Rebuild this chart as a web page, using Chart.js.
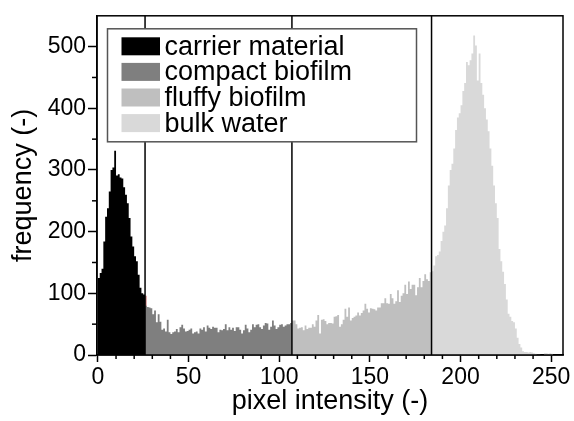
<!DOCTYPE html>
<html><head><meta charset="utf-8">
<script src="https://cdn.jsdelivr.net/npm/chart.js@4/dist/chart.umd.min.js"></script>
<style>html,body{margin:0;padding:0;background:#fff}#wrap{width:574px;height:421px}</style>
</head><body><div id="wrap"><canvas id="c" width="574" height="421"></canvas></div>
<script>
// ---- data ----
const categories = ['carrier material', 'compact biofilm', 'fluffy biofilm', 'bulk water'];
const classStart = [0, 26, 107, 184];
const thresholds = [26, 107, 184];
const carrier = [125,133,140,184,224,238,265,300,304,331,291,293,288,286,272,260,246,222,192,176,160,152,130,109,100,98];
const compact = [80,78,77,76,66,72,53,66,54,41,43,38,57,37,34,37,38,42,37,45,49,43,38,39,41,43,35,37,38,35,43,41,45,38,48,44,42,46,44,44,37,41,40,42,50,40,45,41,44,39,45,45,41,35,40,49,43,37,41,50,45,49,50,45,42,48,52,51,41,46,56,48,42,45,49,50,46,48,50,50,52];
const fluffy = [56,56,50,43,44,45,40,48,42,44,44,50,46,56,65,35,57,58,55,50,52,52,51,62,63,65,46,50,57,75,62,77,56,60,62,64,69,64,68,72,83,75,69,76,75,74,72,77,77,84,84,92,84,83,99,92,83,87,105,86,96,100,114,99,119,107,114,114,97,110,125,110,120,131,123,120,134];
const bulk = [136,145,160,162,168,185,200,210,238,275,300,310,335,365,385,392,405,428,441,475,470,478,489,518,502,445,489,441,422,400,382,363,335,307,275,246,222,172,152,135,115,90,67,62,55,53,43,28,18,12,6,5,5,4,5,4,3,2,1,1,0,0,3,3,2,3,2,0,0,0,0,0];
const edgeBin = 26;
const edgeValue = [96];
const xTicks = [0, 50, 100, 150, 200, 250];
const yTicks = [0, 100, 200, 300, 400, 500];
const xMinorTicks = [10,20,30,40,60,70,80,90,110,120,130,140,160,170,180,190,210,220,230,240];
const yMinorTicks = [50, 150, 250, 350, 450];
const colors = ['#000000', '#7f7f7f', '#bfbfbf', '#d9d9d9'];
const edgeColor = '#d49090';

const FONT = "'Liberation Sans', Arial, sans-serif";
Chart.defaults.font.family = FONT;
Chart.defaults.color = '#000';

// histogram bins drawn as filled step outlines (bin i covers [i, i+1])
const series = [carrier, compact, fluffy, bulk];
const toSteps = (arr, start) => {
  const pts = arr.map((v, i) => ({x: start + i, y: v}));
  pts.push({x: start + arr.length, y: arr[arr.length - 1]});
  return pts;
};
const stepStyle = {stepped: 'before', fill: 'origin', borderWidth: 0, pointRadius: 0, pointHoverRadius: 0, tension: 0};
const datasets = series.map((arr, k) => Object.assign({
  label: categories[k],
  data: toSteps(arr, classStart[k]),
  backgroundColor: colors[k],
  borderColor: colors[k],
  order: 0
}, stepStyle));
datasets.push(Object.assign({
  label: 'edge',
  data: toSteps(edgeValue, edgeBin),
  backgroundColor: edgeColor,
  borderColor: edgeColor,
  order: 1
}, stepStyle));

const framePlugin = {
  id: 'frame',
  afterDatasetsDraw(chart) {
    const {ctx, chartArea: a, scales: {x, y}} = chart;
    ctx.save();
    ctx.strokeStyle = '#000';
    ctx.lineWidth = 1.5;
    thresholds.forEach(t => {
      const px = x.getPixelForValue(t);
      ctx.beginPath(); ctx.moveTo(px, a.top); ctx.lineTo(px, a.bottom); ctx.stroke();
    });
    ctx.strokeRect(a.left, a.top, a.right - a.left, a.bottom - a.top);
    xMinorTicks.forEach(v => {
      const px = x.getPixelForValue(v);
      ctx.beginPath(); ctx.moveTo(px, a.bottom); ctx.lineTo(px, a.bottom + 4); ctx.stroke();
    });
    yMinorTicks.forEach(v => {
      const py = y.getPixelForValue(v);
      ctx.beginPath(); ctx.moveTo(a.left, py); ctx.lineTo(a.left - 5, py); ctx.stroke();
    });
    ctx.restore();
  }
};

const legendPlugin = {
  id: 'boxLegend',
  afterDraw(chart) {
    const {ctx, chartArea: a} = chart;
    const x0 = a.left + 10.5, y0 = a.top + 13, w = 309, h = 113;
    ctx.save();
    ctx.fillStyle = '#fff';
    ctx.fillRect(x0, y0, w, h);
    ctx.strokeStyle = '#555';
    ctx.lineWidth = 1.5;
    ctx.strokeRect(x0, y0, w, h);
    ctx.font = '27px ' + FONT;
    ctx.textBaseline = 'middle';
    ctx.textAlign = 'left';
    categories.forEach((c, i) => {
      const sy = y0 + 8.5 + i * 25.6;
      ctx.fillStyle = colors[i];
      ctx.fillRect(x0 + 14, sy, 38.5, 18);
      ctx.fillStyle = '#000';
      ctx.fillText(c, x0 + 57, sy + 10);
    });
    ctx.restore();
  }
};

new Chart(document.getElementById('c'), {
  type: 'line',
  data: {datasets},
  options: {
    responsive: false,
    animation: false,
    devicePixelRatio: 1,
    layout: {padding: {top: 12, right: 11, left: 0, bottom: 0}},
    plugins: {legend: {display: false}, tooltip: {enabled: false}},
    scales: {
      x: {
        type: 'linear',
        min: -0.5,
        max: 256.5,
        afterBuildTicks: s => { s.ticks = xTicks.map(v => ({value: v})); },
        afterFit: s => { s.height = 66; },
        ticks: {font: {size: 23}, padding: 2, maxRotation: 0, autoSkip: false},
        grid: {drawOnChartArea: false, tickLength: 7, tickColor: '#000', tickWidth: 1.5},
        border: {display: true, color: '#000', width: 1.5},
        title: {display: true, text: 'pixel intensity (-)', font: {size: 27}, padding: {top: 0, bottom: 3}}
      },
      y: {
        min: 0,
        max: 550,
        afterBuildTicks: s => { s.ticks = yTicks.map(v => ({value: v})); },
        afterFit: s => { s.width = 97; },
        ticks: {font: {size: 23}, padding: 2},
        grid: {drawOnChartArea: false, tickLength: 9, tickColor: '#000', tickWidth: 1.5},
        border: {display: true, color: '#000', width: 1.5},
        title: {display: true, text: 'frequency (-)', font: {size: 27}, padding: {top: 7, bottom: 0}}
      }
    }
  },
  plugins: [framePlugin, legendPlugin]
});
</script>
</body></html>
